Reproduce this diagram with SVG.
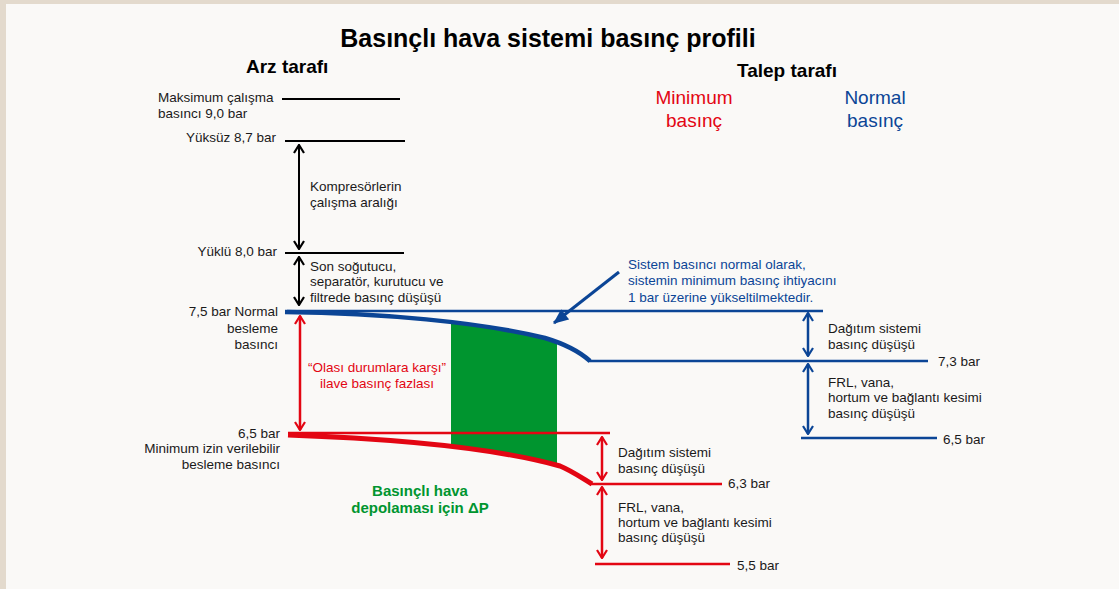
<svg xmlns="http://www.w3.org/2000/svg" width="1119" height="589" viewBox="0 0 1119 589">
  <style>
    text { font-family: "Liberation Sans", Arial, sans-serif; font-size: 13.5px; fill: #1a1a1a; }
    .title { font-size: 25px; font-weight: bold; fill: #000; }
    .head { font-size: 19px; font-weight: bold; fill: #000; }
    .big { font-size: 19px; }
    .r { fill: #e30613; }
    .b { fill: #0b4596; }
    .g { fill: #00952f; font-weight: bold; font-size: 15px; }
    .end { text-anchor: end; }
    .mid { text-anchor: middle; }
    .lk { stroke: #000; stroke-width: 2; fill: none; }
    .lr { stroke: #e30613; stroke-width: 2.5; fill: none; }
    .lb { stroke: #0b4596; stroke-width: 2.5; fill: none; }
  </style>
  <defs>
    <marker id="ak" viewBox="0 0 10 12" refX="9" refY="6" markerWidth="10" markerHeight="12" markerUnits="userSpaceOnUse" orient="auto-start-reverse">
      <path d="M1,1 L9,6 L1,11" fill="none" stroke="#000" stroke-width="2.2"/>
    </marker>
    <marker id="ar" viewBox="0 0 10 12" refX="9" refY="6" markerWidth="10" markerHeight="12" markerUnits="userSpaceOnUse" orient="auto-start-reverse">
      <path d="M1,1 L9,6 L1,11" fill="none" stroke="#e30613" stroke-width="2.2"/>
    </marker>
    <marker id="ab" viewBox="0 0 10 12" refX="9" refY="6" markerWidth="10" markerHeight="12" markerUnits="userSpaceOnUse" orient="auto-start-reverse">
      <path d="M1,1 L9,6 L1,11" fill="none" stroke="#0b4596" stroke-width="2.2"/>
    </marker>
    <marker id="abf" viewBox="0 0 14 12" refX="13" refY="6" markerWidth="16" markerHeight="13" markerUnits="userSpaceOnUse" orient="auto">
      <path d="M0,0 L14,6 L0,12 Z" fill="#0b4596"/>
    </marker>
    <clipPath id="storeClip">
      <rect x="451" y="300" width="106" height="200"/>
    </clipPath>
  </defs>

  <!-- frame and page -->
  <rect x="0" y="0" width="1119" height="589" fill="#e3dacd"/>
  <rect x="6" y="4" width="1113" height="585" fill="#faf9f7"/>

  <!-- headings -->
  <g id="headings">
    <text class="title mid" x="548" y="47">Basınçlı hava sistemi basınç profili</text>
    <text class="head" x="246" y="73">Arz tarafı</text>
    <text class="head" x="737" y="77">Talep tarafı</text>
    <text class="big r mid" x="694" y="104">Minimum</text>
    <text class="big r mid" x="694" y="127">basınç</text>
    <text class="big b mid" x="875" y="104">Normal</text>
    <text class="big b mid" x="875" y="127">basınç</text>
  </g>

  <!-- storage pressure band between the normal and minimum curves -->
  <g id="storage">
    <path clip-path="url(#storeClip)" fill="#00952f"
      d="M285,312 C380,313 480,322 545,338 C565,344 580,352 590,361 L590,484 C582,478 572,471 560,466 C510,452 430,440 288,435 Z"/>
    <text class="g mid" x="420" y="496">Basınçlı hava</text>
    <text class="g mid" x="420" y="513">depolaması için ΔP</text>
  </g>

  <!-- supply side levels -->
  <g id="supply-max">
    <line class="lk" x1="282" y1="99" x2="400" y2="99"/>
    <text x="158" y="102">Maksimum çalışma</text>
    <text x="158" y="118">basıncı 9,0 bar</text>
  </g>
  <g id="supply-unload">
    <line class="lk" x1="285" y1="141" x2="405" y2="141"/>
    <text class="end" x="276" y="142">Yüksüz 8,7 bar</text>
  </g>
  <g id="supply-load">
    <line class="lk" x1="285" y1="253" x2="404" y2="253"/>
    <text class="end" x="277" y="256">Yüklü 8,0 bar</text>
  </g>
  <g id="supply-normal">
    <line class="lb" x1="287" y1="311" x2="823" y2="311"/>
    <path d="M285,312 C380,313 480,322 545,338 C565,344 580,352 590,361" fill="none" stroke="#0b4596" stroke-width="4.5"/>
    <line class="lb" x1="588" y1="361" x2="928" y2="361"/>
    <text class="end" x="278" y="316">7,5 bar Normal</text>
    <text class="end" x="278" y="333">besleme</text>
    <text class="end" x="278" y="349">basıncı</text>
  </g>
  <g id="supply-minimum">
    <line class="lr" x1="288" y1="433" x2="610" y2="433"/>
    <path d="M288,435 C430,440 510,452 560,466 C572,471 582,478 592,484" fill="none" stroke="#e30613" stroke-width="5"/>
    <line class="lr" x1="590" y1="484" x2="722" y2="484"/>
    <text class="end" x="280" y="438">6,5 bar</text>
    <text class="end" x="280" y="453">Minimum izin verilebilir</text>
    <text class="end" x="280" y="469">besleme basıncı</text>
  </g>

  <!-- demand side levels -->
  <g id="demand-normal-end">
    <line class="lb" x1="801" y1="438" x2="937" y2="438"/>
    <text x="938" y="366">7,3 bar</text>
    <text x="943" y="444">6,5 bar</text>
  </g>
  <g id="demand-min-end">
    <line class="lr" x1="595" y1="564" x2="730" y2="564"/>
    <text x="728" y="488">6,3 bar</text>
    <text x="737" y="570">5,5 bar</text>
  </g>

  <!-- range labels -->
  <g id="label-compressor">
    <text x="310" y="191">Kompresörlerin</text>
    <text x="310" y="207">çalışma aralığı</text>
  </g>
  <g id="label-treatment">
    <text x="310" y="271">Son soğutucu,</text>
    <text x="310" y="286">separatör, kurutucu ve</text>
    <text x="310" y="302">filtrede basınç düşüşü</text>
  </g>
  <g id="label-reserve">
    <text class="r mid" x="377" y="372">“Olası durumlara karşı”</text>
    <text class="r mid" x="377" y="388">ilave basınç fazlası</text>
  </g>
  <g id="label-note">
    <text class="b" x="628" y="269">Sistem basıncı normal olarak,</text>
    <text class="b" x="628" y="285">sistemin minimum basınç ihtiyacını</text>
    <text class="b" x="628" y="302">1 bar üzerine yükseltilmektedir.</text>
  </g>
  <g id="label-blue-dist">
    <text x="828" y="333">Dağıtım sistemi</text>
    <text x="828" y="349">basınç düşüşü</text>
  </g>
  <g id="label-blue-frl">
    <text x="828" y="387">FRL, vana,</text>
    <text x="828" y="402">hortum ve bağlantı kesimi</text>
    <text x="828" y="418">basınç düşüşü</text>
  </g>
  <g id="label-red-dist">
    <text x="618" y="457">Dağıtım sistemi</text>
    <text x="618" y="473">basınç düşüşü</text>
  </g>
  <g id="label-red-frl">
    <text x="618" y="512">FRL, vana,</text>
    <text x="618" y="527">hortum ve bağlantı kesimi</text>
    <text x="618" y="542">basınç düşüşü</text>
  </g>

  <!-- dimension arrows -->
  <g id="connectors">
    <line class="lk" x1="299" y1="145" x2="299" y2="249" marker-start="url(#ak)" marker-end="url(#ak)"/>
    <line class="lk" x1="299" y1="257" x2="299" y2="305" marker-start="url(#ak)" marker-end="url(#ak)"/>
    <line class="lr" x1="300" y1="316" x2="300" y2="430" marker-start="url(#ar)" marker-end="url(#ar)"/>
    <line class="lr" x1="602" y1="437" x2="602" y2="480" marker-start="url(#ar)" marker-end="url(#ar)"/>
    <line class="lr" x1="602" y1="487" x2="602" y2="558" marker-start="url(#ar)" marker-end="url(#ar)"/>
    <line class="lb" x1="808" y1="313" x2="808" y2="356" marker-start="url(#ab)" marker-end="url(#ab)"/>
    <line class="lb" x1="808" y1="364" x2="808" y2="434" marker-start="url(#ab)" marker-end="url(#ab)"/>
    <line x1="619" y1="272" x2="554" y2="323" stroke="#0b4596" stroke-width="3" marker-end="url(#abf)"/>
  </g>
</svg>
